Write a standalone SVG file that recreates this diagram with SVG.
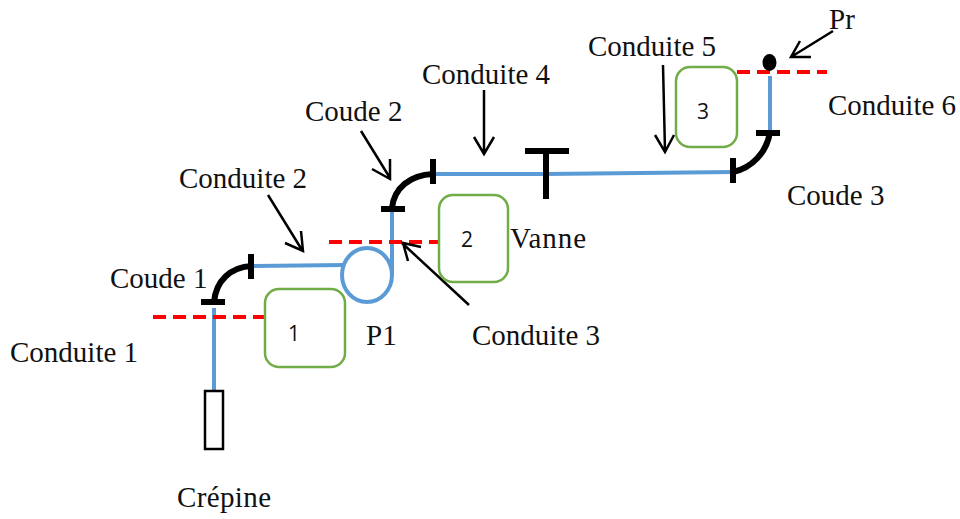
<svg xmlns="http://www.w3.org/2000/svg" width="960" height="519" viewBox="0 0 960 519">
<style>
text{font-family:"Liberation Serif","Times New Roman",serif;font-size:29px;fill:#111}
text.num{font-family:"Open Sans","Noto Sans",sans-serif;font-size:21px;text-anchor:middle}
.pipe{fill:none;stroke:#5b9bd5;stroke-width:4}
.bend{fill:none;stroke:#000;stroke-width:6}
.flange{fill:none;stroke:#000;stroke-width:6}
.dash{fill:none;stroke:#f00;stroke-width:4;stroke-dasharray:13 7}
.arrow{fill:none;stroke:#000;stroke-width:2.5}
.box{fill:#fff;stroke:#70ad47;stroke-width:2.5}
</style>
<rect width="960" height="519" fill="#fff"/>
<g id="connectors">
<path class="pipe" d="M214 308V391"/>
<path class="pipe" d="M252 266L345 265"/>
<path class="pipe" d="M392 212V275"/>
<path class="pipe" d="M435 174L546 174L734 172"/>
<path class="pipe" d="M770 76V132"/>
<path class="dash" d="M153 317H264"/>
<path class="dash" d="M329 242H438"/>
<path class="dash" d="M737 72H827"/>
<path class="arrow" d="M268 195L302 250M285 243L303 251L301 231"/>
<path class="arrow" d="M361 131L390 178M372 169L390 179L390 159"/>
<path class="arrow" d="M484 90V154M474 137L484 154L494 137"/>
<path class="arrow" d="M663 65L665 151M655 135L665 152L674 135"/>
<path class="arrow" d="M833 31L791 57M800 41L791 57L811 57"/>
<path class="arrow" d="M469 305L402 243M408 261L403 243L421 247"/>
</g>
<g id="crepine"><rect x="205" y="391" width="18" height="58" fill="#fff" stroke="#000" stroke-width="2.500"/><text x="177" y="507" textLength="94">Crépine</text></g>
<g id="coude1"><path class="bend" d="M214 302C216 281 230 267 252 266"/><path class="flange" d="M201 302H225M251 254V279"/><text x="110" y="288">Coude 1</text></g>
<g id="coude2"><path class="bend" d="M392 208C394 188 410 175 433 174"/><path class="flange" d="M381 209H405M433 159V184"/><text x="305" y="121">Coude 2</text></g>
<g id="coude3"><path class="bend" d="M770 132C767 152 752 168 733 172"/><path class="flange" d="M756 133H780M733 158V183"/><text x="787" y="205">Coude 3</text></g>
<g id="vanne"><path class="flange" d="M525 151H569M546 151V199"/><text x="510" y="248" textLength="76">Vanne</text></g>
<g id="p1"><ellipse cx="367" cy="275" rx="25" ry="27" fill="none" stroke="#5b9bd5" stroke-width="4"/><text x="366" y="345">P1</text></g>
<g id="pr"><ellipse cx="769.500" cy="62.500" rx="7" ry="8.500" fill="#000"/><text x="829" y="29">Pr</text></g>
<g id="box1"><rect class="box" x="265" y="289" width="80" height="78" rx="14"/><text class="num" x="294" y="341">1</text></g>
<g id="box2"><rect class="box" x="439" y="195" width="69" height="87" rx="14"/><text class="num" x="467" y="247">2</text></g>
<g id="box3"><rect class="box" x="676" y="67" width="61" height="80" rx="14"/><text class="num" x="703" y="119">3</text></g>
<g id="labels">
<text x="10" y="362">Conduite 1</text>
<text x="179" y="188">Conduite 2</text>
<text x="472" y="345">Conduite 3</text>
<text x="422" y="84">Conduite 4</text>
<text x="588" y="56">Conduite 5</text>
<text x="828" y="115">Conduite 6</text>
</g>
</svg>
